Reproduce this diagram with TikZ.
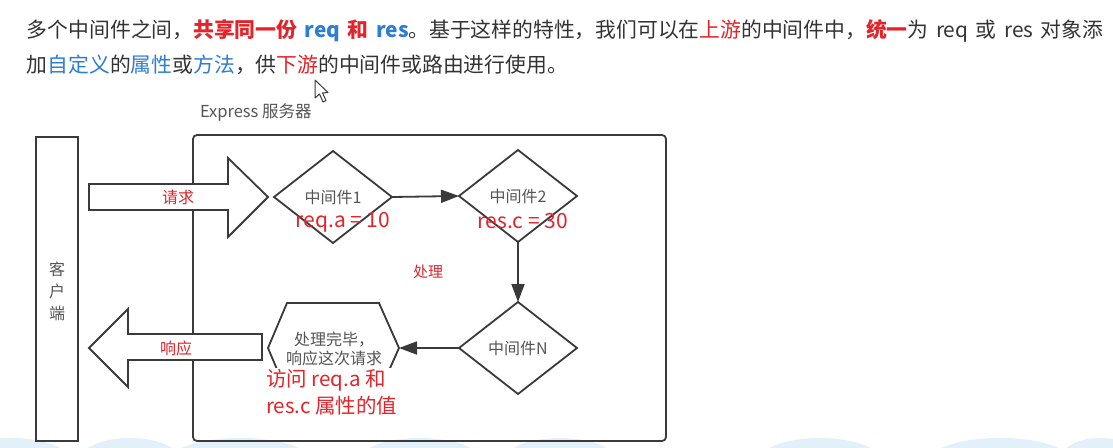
\documentclass[tikz,border=0pt]{standalone}
\usepackage{fontspec}
\setmainfont{Noto Sans CJK SC}
\usetikzlibrary{shapes.geometric,arrows.meta}
\definecolor{txt}{HTML}{333333}
\definecolor{rd}{HTML}{E3242B}
\definecolor{bl}{HTML}{2D7DD2}
\definecolor{ln}{HTML}{3A3A3A}
\definecolor{gr}{HTML}{555555}
\definecolor{cloud}{HTML}{E2F1F9}
\newcommand{\wsp}{\hspace{7.5pt}}
\begin{document}
\begin{tikzpicture}[x=1pt,y=-1pt,
  every node/.style={inner sep=0pt, outer sep=0pt},
  shapeline/.style={draw=ln, line width=1.8pt},
  blockarrow/.style={shapeline, fill=white, line join=miter},
  dia/.style={shape=diamond, shapeline, minimum width=118pt, minimum height=92pt, text=gr, font=\fontsize{16}{19}\selectfont},
  conn/.style={draw=ln, line width=1.8pt, -{Triangle[length=18pt,width=13pt]}},
  redlbl/.style={text=rd, font=\fontsize{16}{19}\selectfont},
  bigred/.style={text=rd, font=\fontsize{21}{27}\selectfont},
  headline/.style={anchor=base west, text=txt, font=\fontsize{20.8}{24}\selectfont},
]
\useasboundingbox (0,0) rectangle (1113,447);
\fill[white] (0,0) rectangle (1113,447);

% bottom clouds
\begin{scope}
\clip (0,0) rectangle (1113,447);
\foreach \cx/\rx in {10/60, 130/50, 240/70, 420/60, 560/55, 820/60, 1000/70, 1100/40}{
  \fill[cloud] (\cx,460) ellipse [x radius=\rx, y radius=22];
}
\end{scope}

% heading text
\node[headline] (line1) at (27,37)
 {多个中间件之间，{\bfseries\color{rd}共享同一份}\wsp{\bfseries\color{bl}req}\wsp{\bfseries\color{rd}和}\wsp{\bfseries\color{bl}res}。基于这样的特性，我们可以在{\color{rd}上游}的中间件中，{\bfseries\color{rd}统一}为\wsp req\wsp 或\wsp res\wsp 对象添};
\node[headline] (line2) at (27,72)
 {加{\color{bl}自定义}的{\color{bl}属性}或{\color{bl}方法}，供{\color{rd}下游}的中间件或路由进行使用。};

% cursor
\draw[fill=white, draw=ln, line width=1pt, line join=round]
  (315,80) -- (315,98) -- (319.5,94) -- (323,102) -- (326,100.5) -- (322.5,93) -- (328,92.5) -- cycle;

% server box and label
\node[text=gr, anchor=west, font=\fontsize{16.5}{19}\selectfont] (srvlbl) at (200,112) {Express 服务器};
\node[shapeline, rounded corners=4pt, anchor=north west, minimum width=473pt, minimum height=306pt] (server) at (193,135) {};

% client
\node[shapeline, anchor=north west, minimum width=42pt, minimum height=304pt] (client) at (36,137) {};
\node[text=gr, align=center, font=\fontsize{16}{22}\selectfont] (clientlbl) at (57,291) {客\\户\\端};

% request / response block arrows
\draw[blockarrow] (89,184) -- (228,184) -- (228,158) -- (268,197) -- (228,237) -- (228,210) -- (89,210) -- cycle;
\node[redlbl] (req) at (178,197) {请求};
\draw[blockarrow] (262,334) -- (128,334) -- (128,309) -- (89,348) -- (128,387) -- (128,360) -- (262,360) -- cycle;
\node[redlbl] (res) at (176,348) {响应};

% middlewares
\node[dia] (d1) at (333,197) {中间件1};
\node[dia] (d2) at (518,196) {中间件2};
\node[dia] (dn) at (518,348) {中间件N};
\node[bigred] (d1txt) at (343,222) {req.a = 10};
\node[bigred] (d2txt) at (523,221) {res.c = 30};
\node[text=rd, font=\fontsize{15}{18}\selectfont] (proc) at (428,272) {处理};

% hexagon
\draw[shapeline, line join=miter] (268,348) -- (287,303) -- (379,303) -- (399,348) -- (379,393) -- (287,393) -- cycle;
\coordinate (hexR) at (399,348);
\node[text=gr, align=center, font=\fontsize{16}{19}\selectfont] (hex) at (334,349) {处理完毕，\\响应这次请求};
\node[bigred, fill=white, anchor=north west, align=left, font=\fontsize{20.5}{27}\selectfont, inner ysep=1pt] (acc) at (266,368) {访问 req.a 和\\res.c 属性的值};

% connectors
\draw[conn] (d1.east) -- (d2.west);
\draw[conn] (d2.south) -- (dn.north);
\draw[conn] (dn.west) -- (hexR);
\end{tikzpicture}
\end{document}
